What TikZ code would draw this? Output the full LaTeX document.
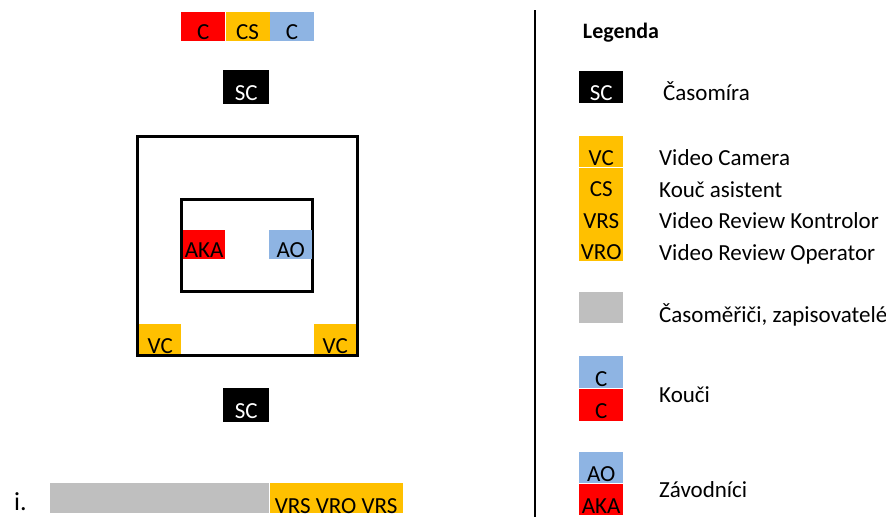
\documentclass[tikz,border=0pt]{standalone}
\usepackage{fontspec}
\setmainfont{Carlito}
\usetikzlibrary{positioning}
\definecolor{akared}{HTML}{FF0000}
\definecolor{aoblue}{HTML}{8EB4E3}
\definecolor{vidorange}{HTML}{FFC000}
\definecolor{deskgray}{HTML}{BFBFBF}

\begin{document}
\begin{tikzpicture}[x=1pt,y=-1pt,
every node/.style={font={\fontsize{23}{27}\selectfont}},
tile/.style={inner sep=0pt,minimum width=44pt,text depth=2pt,text height=#1},
tile/.default=27pt,
legtext/.style={anchor=base west,inner sep=0pt}
]
\useasboundingbox (0,0) rectangle (886,520);

% coaches on top
\node[tile,fill=akared,anchor=north west] (c1) at (181,12) {C};
\node[tile,fill=vidorange,right=0pt of c1] (cs) {CS};
\node[tile,fill=aoblue,right=0pt of cs] (c2) {C};

% score tables
\node[tile=30pt,fill=black,text=white,anchor=north west,minimum width=46pt,text depth=4pt] (sc1) at (223,70) {SC};
\node[tile=30pt,fill=black,text=white,anchor=north west,minimum width=46pt,text depth=4pt] (sc2) at (223,388) {SC};

% tatami
\node[tile=30pt,fill=vidorange,anchor=south west,minimum width=42pt,text depth=3pt] (vc1) at (139,357) {VC};
\node[tile=30pt,fill=vidorange,anchor=south west,minimum width=42pt,text depth=3pt] (vc2) at (314,357) {VC};
\node[draw,line width=3pt,minimum width=220pt,minimum height=219pt] (tatami) at (247.5,246) {};
\node[draw,line width=3pt,minimum width=131pt,minimum height=92pt] (zone) at (247,245.5) {};
\node[tile=28pt,fill=akared,anchor=south west,minimum width=42pt,text depth=1pt] (aka) at (183,259) {AKA};
\node[tile=28pt,fill=aoblue,anchor=south west,minimum width=43pt,text depth=1pt] (ao) at (269,259) {AO};

% officials
\node[tile=28pt,fill=deskgray,anchor=north west,minimum width=219pt] (desk) at (50,483) {};
\node[tile=30pt,fill=vidorange,right=0pt of desk,minimum width=133pt,text depth=0pt] (video) {VRS VRO VRS};
\node[anchor=base west,inner sep=0pt,font={\fontsize{26}{30}\selectfont}] (item) at (14,510) {i.};

% legend
\draw[line width=2pt] (535,10) -- (535,517);
\node[font={\bfseries\fontsize{22}{26}\selectfont}] (legend) at (621,33) {Legenda};

\node[tile=29pt,fill=black,text=white,anchor=north west,text depth=3pt] (legsc) at (579,71) {SC};
\node[legtext] (legsctext) at (663,100) {Časomíra};

\node[tile=29pt,fill=vidorange,anchor=north west] (legVC) at (579,136) {VC};
\node[tile=29pt,fill=vidorange,below=0pt of legVC] (legCS) {CS};
\node[tile=29pt,fill=vidorange,below=0pt of legCS] (legVRS) {VRS};
\node[tile=29pt,fill=vidorange,below=0pt of legVRS] (legVRO) {VRO};
\foreach \abbr/\name/\y in {VC/Video Camera/165,CS/Kouč asistent/197,
  VRS/Video Review Kontrolor/228,VRO/Video Review Operator/260} {
\node[legtext] (leg\abbr text) at (659,\y) {\name};
};

\node[tile=29pt,fill=deskgray,anchor=north west] (legdesk) at (579,292) {};
\node[legtext] (legdesktext) at (659,322) {Časoměřiči, zapisovatelé};

\node[tile=30pt,fill=aoblue,anchor=north west] (legc2) at (579,356) {C};
\node[tile=30pt,fill=akared,below=0pt of legc2] (legc1) {C};
\node[legtext] (legctext) at (659,402) {Kouči};

\node[tile=29pt,fill=aoblue,anchor=north west] (legao) at (579,452) {AO};
\node[tile=30pt,fill=akared,below=0pt of legao,text depth=1pt] (legaka) {AKA};
\node[legtext] (legaotext) at (659,497) {Závodníci};
\end{tikzpicture}
\end{document}
